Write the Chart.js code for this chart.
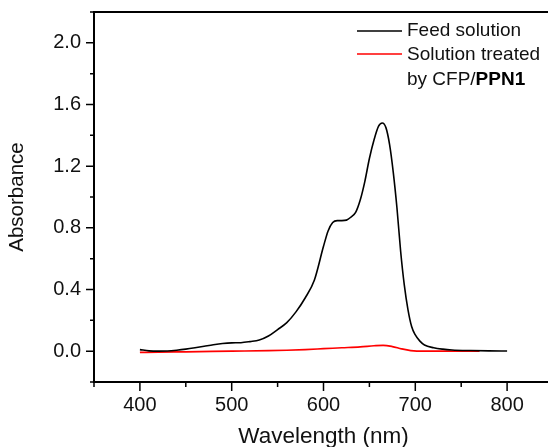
<!DOCTYPE html>
<html>
<head>
<meta charset="utf-8">
<script src="https://cdn.jsdelivr.net/npm/chart.js@4.4.1/dist/chart.umd.min.js"></script>
<style>
  html, body { margin: 0; padding: 0; background: #fff; overflow: hidden; }
  canvas { display: block; }
</style>
</head>
<body>
<canvas id="myChart" width="560" height="447"></canvas>
<script>
// -- ** data ** -- \\
const feedNm = [400, 410, 420, 430, 440, 450, 460, 470, 480, 490, 500, 510, 520, 530, 540, 550, 560, 570, 580, 590,
  600, 605, 610, 615, 620, 625, 630, 635, 640, 645, 650, 655, 660, 664, 668, 672, 676, 680, 684, 688, 692, 696,
  700, 705, 710, 720, 730, 740, 760, 780, 800];
const feedAbs = [0.010, 0.002, 0.000, 0.001, 0.006, 0.013, 0.022, 0.032, 0.042, 0.050, 0.054, 0.055, 0.062, 0.072, 0.098, 0.140, 0.185, 0.255, 0.345, 0.460,
  0.680, 0.780, 0.835, 0.847, 0.847, 0.850, 0.870, 0.900, 0.980, 1.100, 1.250, 1.370, 1.460, 1.480, 1.450, 1.340, 1.160, 0.930, 0.650, 0.430, 0.270, 0.160,
  0.105, 0.065, 0.040, 0.022, 0.013, 0.008, 0.004, 0.002, 0.001];

const treatedNm = [400, 420, 450, 500, 540, 560, 580, 600, 620, 640, 655, 665, 675, 685, 695, 710, 740, 770];
const treatedAbs = [-0.008, -0.006, -0.004, 0.000, 0.003, 0.006, 0.010, 0.016, 0.022, 0.028, 0.035, 0.038, 0.030, 0.015, 0.004, 0.000, 0.000, 0.000];

const xTicks = [400, 500, 600, 700, 800];
const xMinorTicks = [350, 450, 550, 650, 750, 850];
const yTicks = [0.0, 0.4, 0.8, 1.2, 1.6, 2.0];
const yMinorTicks = [-0.2, 0.2, 0.6, 1.0, 1.4, 1.8, 2.2];

const FONT = "'Liberation Sans', Arial, sans-serif";

function toPoints(xs, ys) {
  return xs.map((x, i) => ({ x: x, y: ys[i] }));
}

// -- ** ticks + frame + legend ** -- \\
const framePlugin = {
  id: 'framePlugin',
  afterDraw(chart) {
    const ctx = chart.ctx;
    const area = chart.chartArea;
    const xs = chart.scales.x;
    const ys = chart.scales.y;
    ctx.save();
    ctx.strokeStyle = '#000';
    ctx.lineWidth = 2;
    // top frame
    ctx.beginPath();
    ctx.moveTo(area.left, area.top);
    ctx.lineTo(area.right, area.top);
    ctx.stroke();
    ctx.lineWidth = 1.5;
    // tick marks
    ctx.beginPath();
    yTicks.forEach(v => { const p = ys.getPixelForValue(v); ctx.moveTo(area.left, p); ctx.lineTo(area.left - 8, p); });
    yMinorTicks.forEach(v => { const p = ys.getPixelForValue(v); ctx.moveTo(area.left, p); ctx.lineTo(area.left - 4, p); });
    xTicks.forEach(v => { const p = xs.getPixelForValue(v); ctx.moveTo(p, area.bottom); ctx.lineTo(p, area.bottom + 9); });
    xMinorTicks.forEach(v => { const p = xs.getPixelForValue(v); ctx.moveTo(p, area.bottom); ctx.lineTo(p, area.bottom + 5); });
    ctx.stroke();

    // legend
    const lx = area.right - 196;
    const tx = lx + 50;
    ctx.font = '19px ' + FONT;
    ctx.fillStyle = '#111';
    ctx.textBaseline = 'middle';
    ctx.lineWidth = 1.5;
    ctx.strokeStyle = '#000';
    ctx.beginPath(); ctx.moveTo(lx, area.top + 19); ctx.lineTo(lx + 45, area.top + 19); ctx.stroke();
    ctx.fillText('Feed solution', tx, area.top + 19);
    ctx.strokeStyle = '#ff0000';
    ctx.beginPath(); ctx.moveTo(lx, area.top + 42); ctx.lineTo(lx + 45, area.top + 42); ctx.stroke();
    ctx.fillText('Solution treated', tx, area.top + 43);
    ctx.fillText('by CFP/', tx, area.top + 68);
    const w = ctx.measureText('by CFP/').width;
    ctx.font = 'bold 19px ' + FONT;
    ctx.fillStyle = '#000';
    ctx.fillText('PPN1', tx + w, area.top + 68);
    ctx.restore();
  }
};

const config = {
  type: 'line',
  data: {
    datasets: [
      {
        label: 'Feed solution',
        data: toPoints(feedNm, feedAbs),
        borderColor: '#000',
        borderWidth: 1.6,
        pointRadius: 0,
        cubicInterpolationMode: 'monotone',
        fill: false
      },
      {
        label: 'Solution treated by CFP/PPN1',
        data: toPoints(treatedNm, treatedAbs),
        borderColor: '#ff0000',
        borderWidth: 1.7,
        pointRadius: 0,
        cubicInterpolationMode: 'monotone',
        fill: false
      }
    ]
  },
  options: {
    responsive: false,
    animation: false,
    events: [],
    layout: { padding: { top: 12, right: 7, left: 0, bottom: 0 } },
    plugins: { legend: { display: false }, tooltip: { enabled: false } },
    scales: {
      x: {
        type: 'linear',
        min: 350,
        max: 850,
        afterBuildTicks: (s) => { s.ticks = xTicks.map(v => ({ value: v })); },
        afterFit: (s) => { s.height = 65; s.paddingLeft = 0; s.paddingRight = 0; },
        grid: { display: false, drawTicks: false },
        border: { display: true, color: '#000', width: 2 },
        ticks: { color: '#111', font: { family: FONT, size: 20 }, padding: 11, maxRotation: 0 },
        title: { display: true, text: 'Wavelength (nm)', color: '#111', font: { family: FONT, size: 22.5, lineHeight: 0.9 }, padding: { top: 8, bottom: 0 } }
      },
      y: {
        min: -0.2,
        max: 2.2,
        afterBuildTicks: (s) => { s.ticks = yTicks.map(v => ({ value: v })); },
        afterFit: (s) => { s.width = 94; s.paddingTop = 0; s.paddingBottom = 0; },
        grid: { display: false, drawTicks: false },
        border: { display: true, color: '#000', width: 2 },
        ticks: { color: '#111', font: { family: FONT, size: 20 }, padding: 13, callback: (v) => Number(v).toFixed(1) },
        title: { display: true, text: 'Absorbance', color: '#111', font: { family: FONT, size: 20.5 }, padding: { top: 5, bottom: 0 } }
      }
    }
  },
  plugins: [framePlugin]
};

window.myChart = new Chart(document.getElementById('myChart'), config);
</script>
</body>
</html>
